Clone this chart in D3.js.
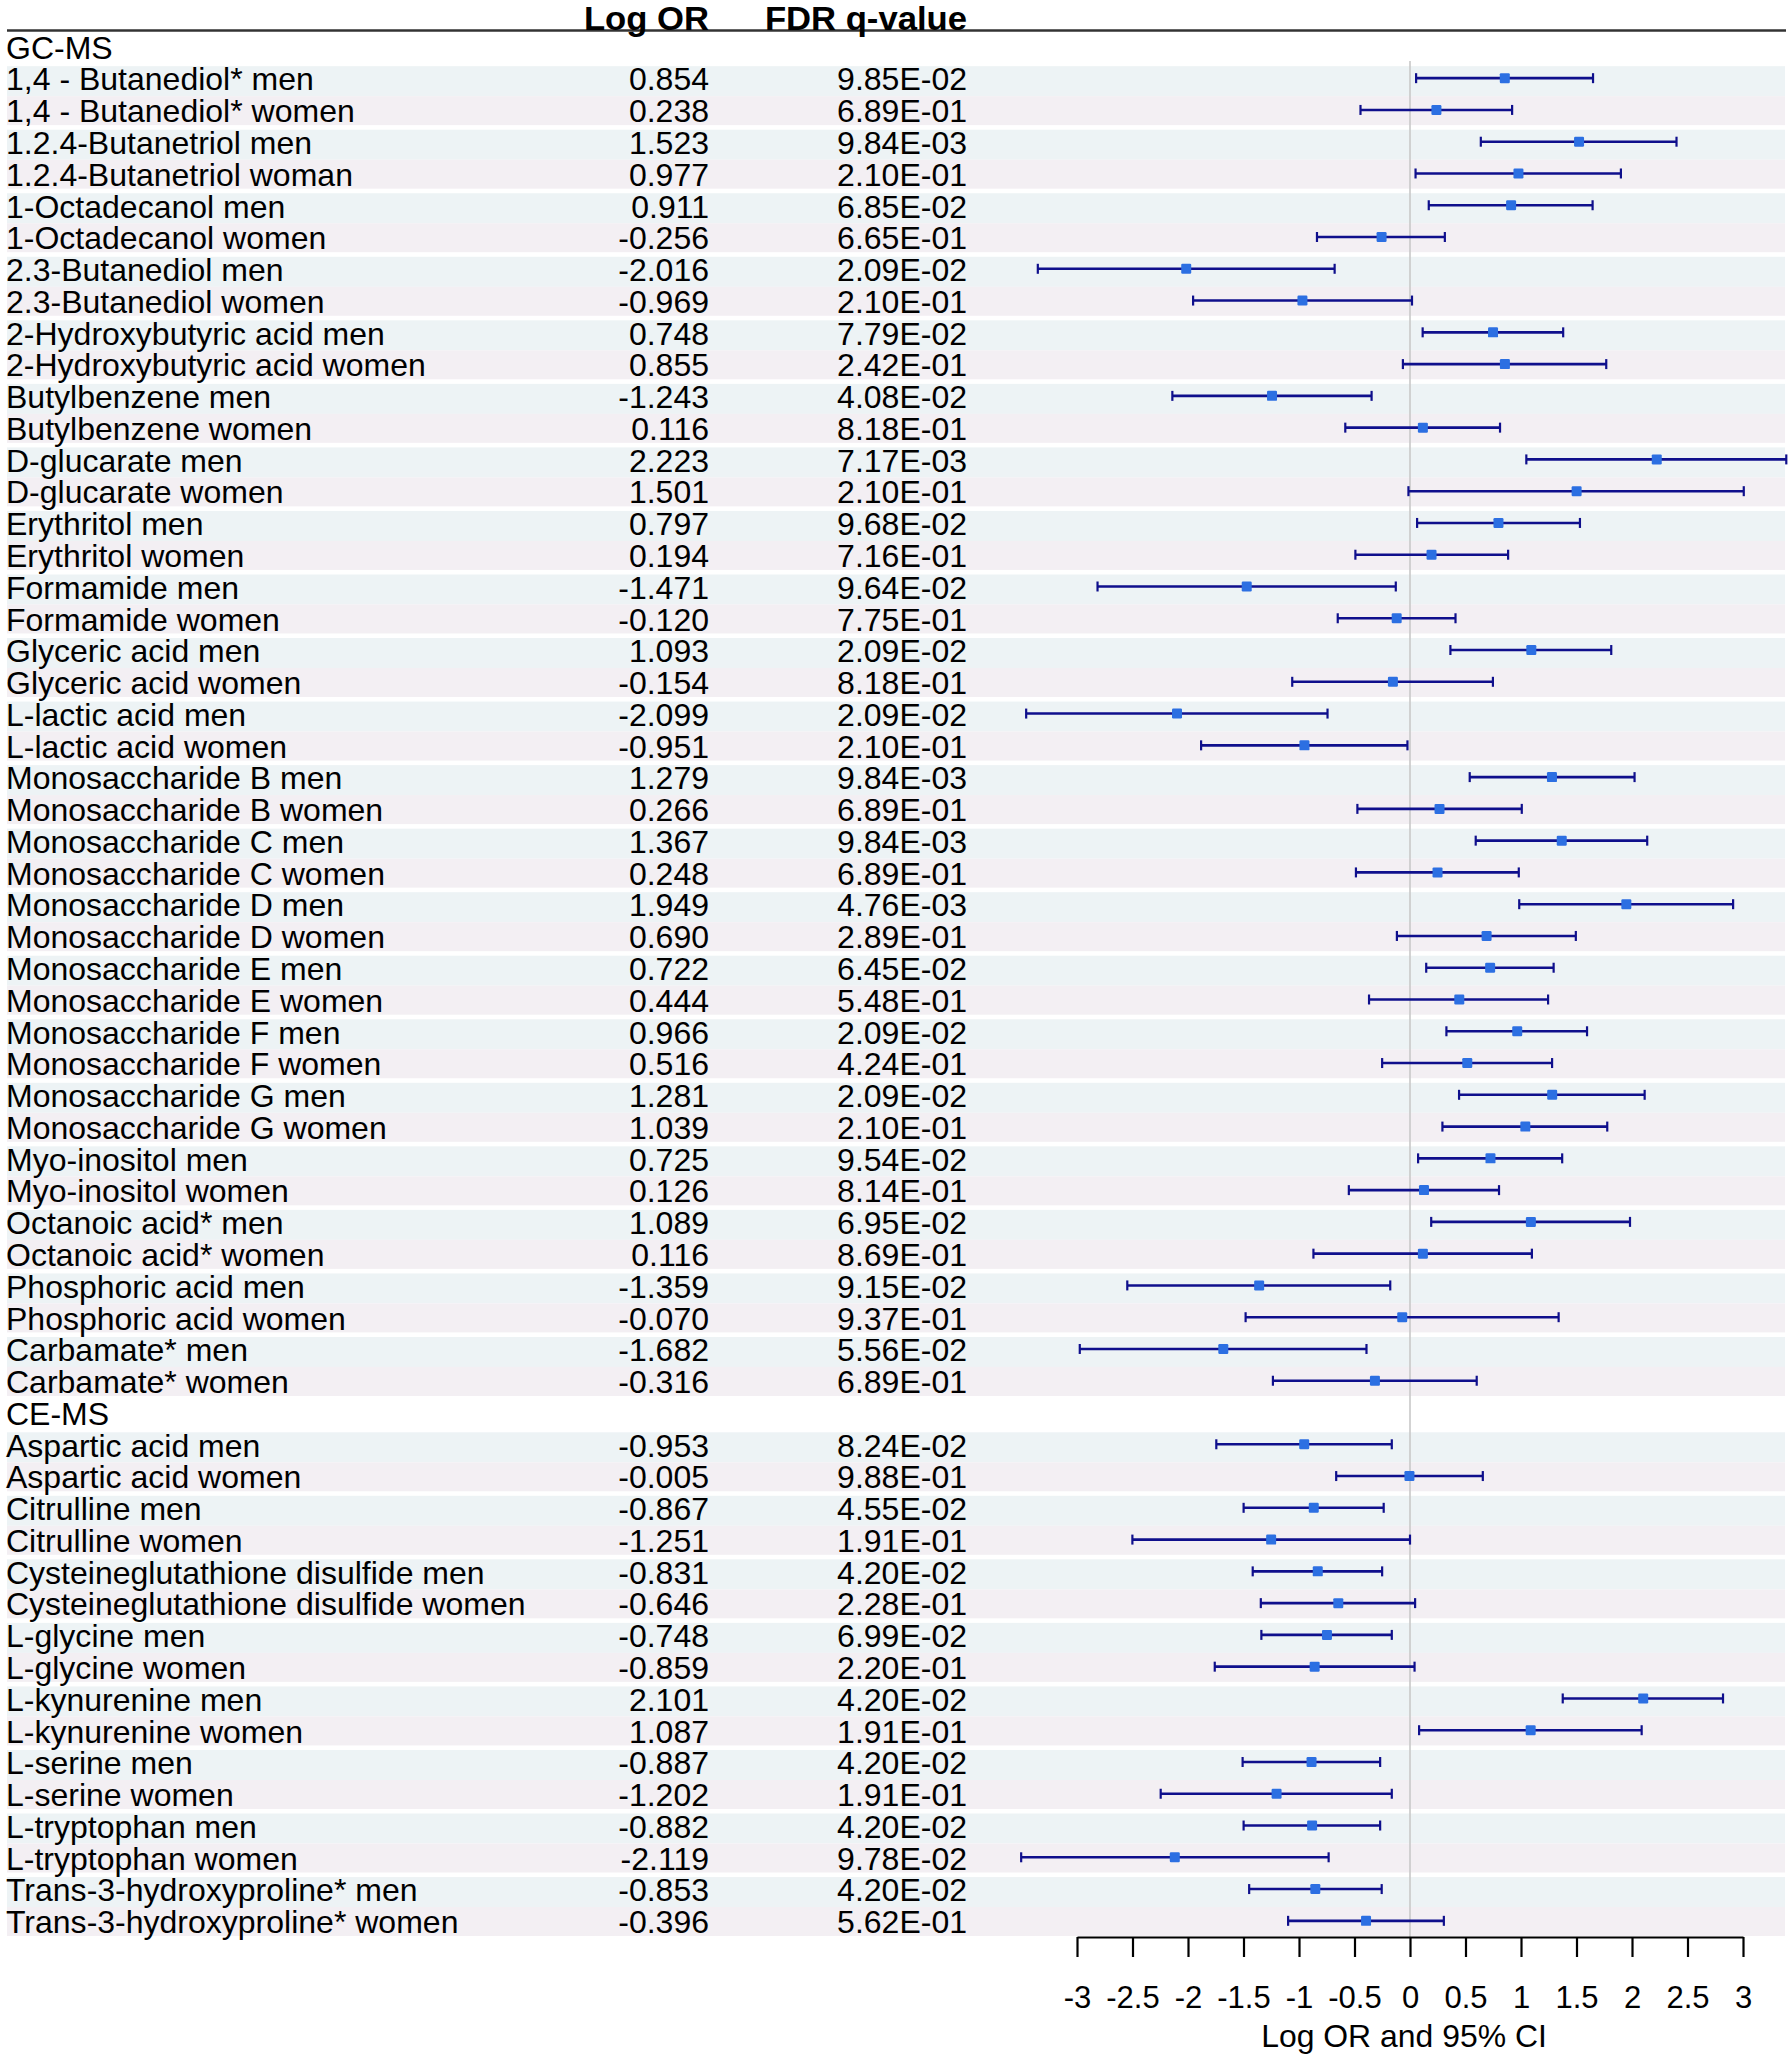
<!DOCTYPE html>
<html>
<head>
<meta charset="utf-8">
<script src="https://cdn.jsdelivr.net/npm/d3@7"></script>
<style>
  body { margin: 0; background: #fff; }
  text { font-family: "Liberation Sans", Arial, sans-serif; fill: #000; }
</style>
</head>
<body>
<div id="chart"></div>
<script>
// ---- data ----
var sections = ["GC-MS", "CE-MS"];

var gcLabels = [
  "1,4 - Butanediol* men", "1,4 - Butanediol* women",
  "1.2.4-Butanetriol men", "1.2.4-Butanetriol woman",
  "1-Octadecanol men", "1-Octadecanol women",
  "2.3-Butanediol men", "2.3-Butanediol women",
  "2-Hydroxybutyric acid men", "2-Hydroxybutyric acid women",
  "Butylbenzene men", "Butylbenzene women",
  "D-glucarate men", "D-glucarate women",
  "Erythritol men", "Erythritol women",
  "Formamide men", "Formamide women",
  "Glyceric acid men", "Glyceric acid women",
  "L-lactic acid men", "L-lactic acid women",
  "Monosaccharide B men", "Monosaccharide B women",
  "Monosaccharide C men", "Monosaccharide C women",
  "Monosaccharide D men", "Monosaccharide D women",
  "Monosaccharide E men", "Monosaccharide E women",
  "Monosaccharide F men", "Monosaccharide F women",
  "Monosaccharide G men", "Monosaccharide G women",
  "Myo-inositol men", "Myo-inositol women",
  "Octanoic acid* men", "Octanoic acid* women",
  "Phosphoric acid men", "Phosphoric acid women",
  "Carbamate* men", "Carbamate* women"
];
var gcLogOR = [0.854, 0.238, 1.523, 0.977, 0.911, -0.256, -2.016, -0.969, 0.748, 0.855,
  -1.243, 0.116, 2.223, 1.501, 0.797, 0.194, -1.471, -0.120, 1.093, -0.154,
  -2.099, -0.951, 1.279, 0.266, 1.367, 0.248, 1.949, 0.690, 0.722, 0.444,
  0.966, 0.516, 1.281, 1.039, 0.725, 0.126, 1.089, 0.116, -1.359, -0.070,
  -1.682, -0.316];
var gcFdr = ["9.85E-02", "6.89E-01", "9.84E-03", "2.10E-01", "6.85E-02", "6.65E-01", "2.09E-02", "2.10E-01", "7.79E-02", "2.42E-01",
  "4.08E-02", "8.18E-01", "7.17E-03", "2.10E-01", "9.68E-02", "7.16E-01", "9.64E-02", "7.75E-01", "2.09E-02", "8.18E-01",
  "2.09E-02", "2.10E-01", "9.84E-03", "6.89E-01", "9.84E-03", "6.89E-01", "4.76E-03", "2.89E-01", "6.45E-02", "5.48E-01",
  "2.09E-02", "4.24E-01", "2.09E-02", "2.10E-01", "9.54E-02", "8.14E-01", "6.95E-02", "8.69E-01", "9.15E-02", "9.37E-01",
  "5.56E-02", "6.89E-01"];
var gcLower = [0.055, -0.446, 0.638, 0.050, 0.169, -0.838, -3.353, -1.954, 0.114, -0.064,
  -2.141, -0.583, 1.048, -0.014, 0.064, -0.492, -2.815, -0.651, 0.364, -1.061,
  -3.458, -1.882, 0.538, -0.474, 0.592, -0.487, 0.984, -0.118, 0.146, -0.369,
  0.328, -0.251, 0.442, 0.292, 0.073, -0.551, 0.191, -0.870, -2.547, -1.481,
  -2.975, -1.235];
var gcUpper = [1.649, 0.920, 2.401, 1.900, 1.645, 0.314, -0.679, 0.018, 1.380, 1.768,
  -0.346, 0.811, 3.390, 3.007, 1.531, 0.884, -0.128, 0.410, 1.813, 0.747,
  -0.743, -0.023, 2.023, 1.007, 2.137, 0.980, 2.911, 1.494, 1.294, 1.244,
  1.595, 1.280, 2.114, 1.777, 1.371, 0.802, 1.982, 1.098, -0.178, 1.339,
  -0.392, 0.601];

var ceLabels = [
  "Aspartic acid men", "Aspartic acid women",
  "Citrulline men", "Citrulline women",
  "Cysteineglutathione disulfide men", "Cysteineglutathione disulfide women",
  "L-glycine men", "L-glycine women",
  "L-kynurenine men", "L-kynurenine women",
  "L-serine men", "L-serine women",
  "L-tryptophan men", "L-tryptophan women",
  "Trans-3-hydroxyproline* men", "Trans-3-hydroxyproline* women"
];
var ceLogOR = [-0.953, -0.005, -0.867, -1.251, -0.831, -0.646, -0.748, -0.859,
  2.101, 1.087, -0.887, -1.202, -0.882, -2.119, -0.853, -0.396];
var ceFdr = ["8.24E-02", "9.88E-01", "4.55E-02", "1.91E-01", "4.20E-02", "2.28E-01", "6.99E-02", "2.20E-01",
  "4.20E-02", "1.91E-01", "4.20E-02", "1.91E-01", "4.20E-02", "9.78E-02", "4.20E-02", "5.62E-01"];
var ceLower = [-1.745, -0.665, -1.499, -2.501, -1.417, -1.344, -1.339, -1.759,
  1.376, 0.082, -1.508, -2.246, -1.499, -3.503, -1.449, -1.098];
var ceUpper = [-0.164, 0.656, -0.237, 0.000, -0.251, 0.046, -0.164, 0.041,
  2.820, 2.087, -0.269, -0.164, -0.269, -0.733, -0.255, 0.305];

var xTicks = [-3, -2.5, -2, -1.5, -1, -0.5, 0, 0.5, 1, 1.5, 2, 2.5, 3];

// build one list of slots: section headers + rows
var slots = [];
[[gcLabels, gcLogOR, gcFdr, gcLower, gcUpper], [ceLabels, ceLogOR, ceFdr, ceLower, ceUpper]]
  .forEach(function(s, si) {
    slots.push({header: sections[si]});
    s[0].forEach(function(lab, i) {
      slots.push({label: lab, or: s[1][i], fdr: s[2][i], lo: s[3][i], hi: s[4][i], women: i % 2 == 1});
    });
  });
slots.forEach(function(d, i) { d.slot = i; });
var rows = slots.filter(function(d) { return !d.header; });

// ---- layout ----
var W = 1791, H = 2057;
var svg = d3.select("#chart").append("svg")
  .attr("width", W).attr("height", H);

var y = d3.scaleLinear().domain([0, slots.length - 1]).range([46.4, 46.4 + 31.77 * (slots.length - 1)]);
var x = d3.scaleLinear().domain([-3, 3]).range([1077, 1743]);
var axisY = 1937;

// row bands
svg.selectAll("rect.band")
  .data(rows)
  .enter().append("rect")
  .attr("class", "band")
  .attr("x", 7)
  .attr("width", 1778)
  .attr("y", function(d) { return d.women ? y(d.slot) - 13.8 : y(d.slot) - 12; })
  .attr("height", function(d) { return d.women ? 29 : 30; })
  .attr("fill", function(d) { return d.women ? "#f3eff3" : "#edf3f5"; });

// header line and titles
svg.append("line")
  .attr("x1", 7).attr("x2", 1786)
  .attr("y1", 30.5).attr("y2", 30.5)
  .attr("stroke", "#333").attr("stroke-width", 2.5);

function head(xpos, txt) {
  svg.append("text")
    .attr("transform", "translate(" + xpos + ",30) scale(1.05,1)")
    .attr("text-anchor", "end").attr("font-weight", "bold").attr("font-size", "33px")
    .text(txt);
}
head(709, "Log OR");
head(967, "FDR q-value");

// zero reference line
svg.append("line")
  .attr("x1", x(0)).attr("x2", x(0))
  .attr("y1", 61).attr("y2", axisY)
  .attr("stroke", "#c8c8c8").attr("stroke-width", 1.6);

// text columns (slightly widened glyphs, like the original)
var fs = "31px", sx = 1.033;
function tr(xpos, d) { return "translate(" + xpos + "," + (y(d.slot) + 12.3) + ") scale(" + sx + ",1)"; }

svg.selectAll("text.lab")
  .data(slots)
  .enter().append("text")
  .attr("class", "lab")
  .attr("transform", function(d) { return tr(6, d); })
  .attr("font-size", fs)
  .text(function(d) { return d.header || d.label; });

svg.selectAll("text.or")
  .data(rows)
  .enter().append("text")
  .attr("class", "or")
  .attr("transform", function(d) { return tr(709, d); })
  .attr("text-anchor", "end")
  .attr("font-size", fs)
  .text(function(d) { return d.or.toFixed(3); });

svg.selectAll("text.fdr")
  .data(rows)
  .enter().append("text")
  .attr("class", "fdr")
  .attr("transform", function(d) { return tr(967, d); })
  .attr("text-anchor", "end")
  .attr("font-size", fs)
  .text(function(d) { return d.fdr; });

// error bars
var bar = svg.selectAll("g.ci")
  .data(rows)
  .enter().append("g")
  .attr("class", "ci")
  .attr("transform", function(d) { return "translate(0," + y(d.slot) + ")"; });

bar.append("line")
  .attr("x1", function(d) { return x(d.lo); })
  .attr("x2", function(d) { return x(d.hi); })
  .attr("stroke", "#0f0f8c").attr("stroke-width", 2.6);

bar.selectAll("line.cap")
  .data(function(d) { return [d.lo, d.hi]; })
  .enter().append("line")
  .attr("class", "cap")
  .attr("x1", function(v) { return x(v); })
  .attr("x2", function(v) { return x(v); })
  .attr("y1", -5).attr("y2", 5)
  .attr("stroke", "#0f0f8c").attr("stroke-width", 2.2);

bar.append("rect")
  .attr("x", function(d) { return x(d.or) - 5; })
  .attr("y", -5)
  .attr("width", 10).attr("height", 10)
  .attr("rx", 1.2)
  .attr("fill", "#2c6fe2");

// x axis
var axis = d3.axisBottom(x)
  .tickValues(xTicks)
  .tickSize(20)
  .tickSizeOuter(0)
  .tickPadding(29)
  .tickFormat(function(d) { return String(d); });

var gx = svg.append("g")
  .attr("transform", "translate(0," + axisY + ")")
  .call(axis);
gx.select(".domain").attr("stroke", "#000").attr("stroke-width", 2.2);
gx.selectAll(".tick line").attr("stroke", "#000").attr("stroke-width", 2.2);
gx.selectAll(".tick text")
  .attr("font-family", "Liberation Sans, Arial, sans-serif")
  .attr("font-size", "31px")
  .attr("fill", "#000");

svg.append("text")
  .attr("transform", "translate(1404,2047) scale(1.03,1)")
  .attr("text-anchor", "middle")
  .attr("font-size", "31px")
  .text("Log OR and 95% CI");
</script>
</body>
</html>
